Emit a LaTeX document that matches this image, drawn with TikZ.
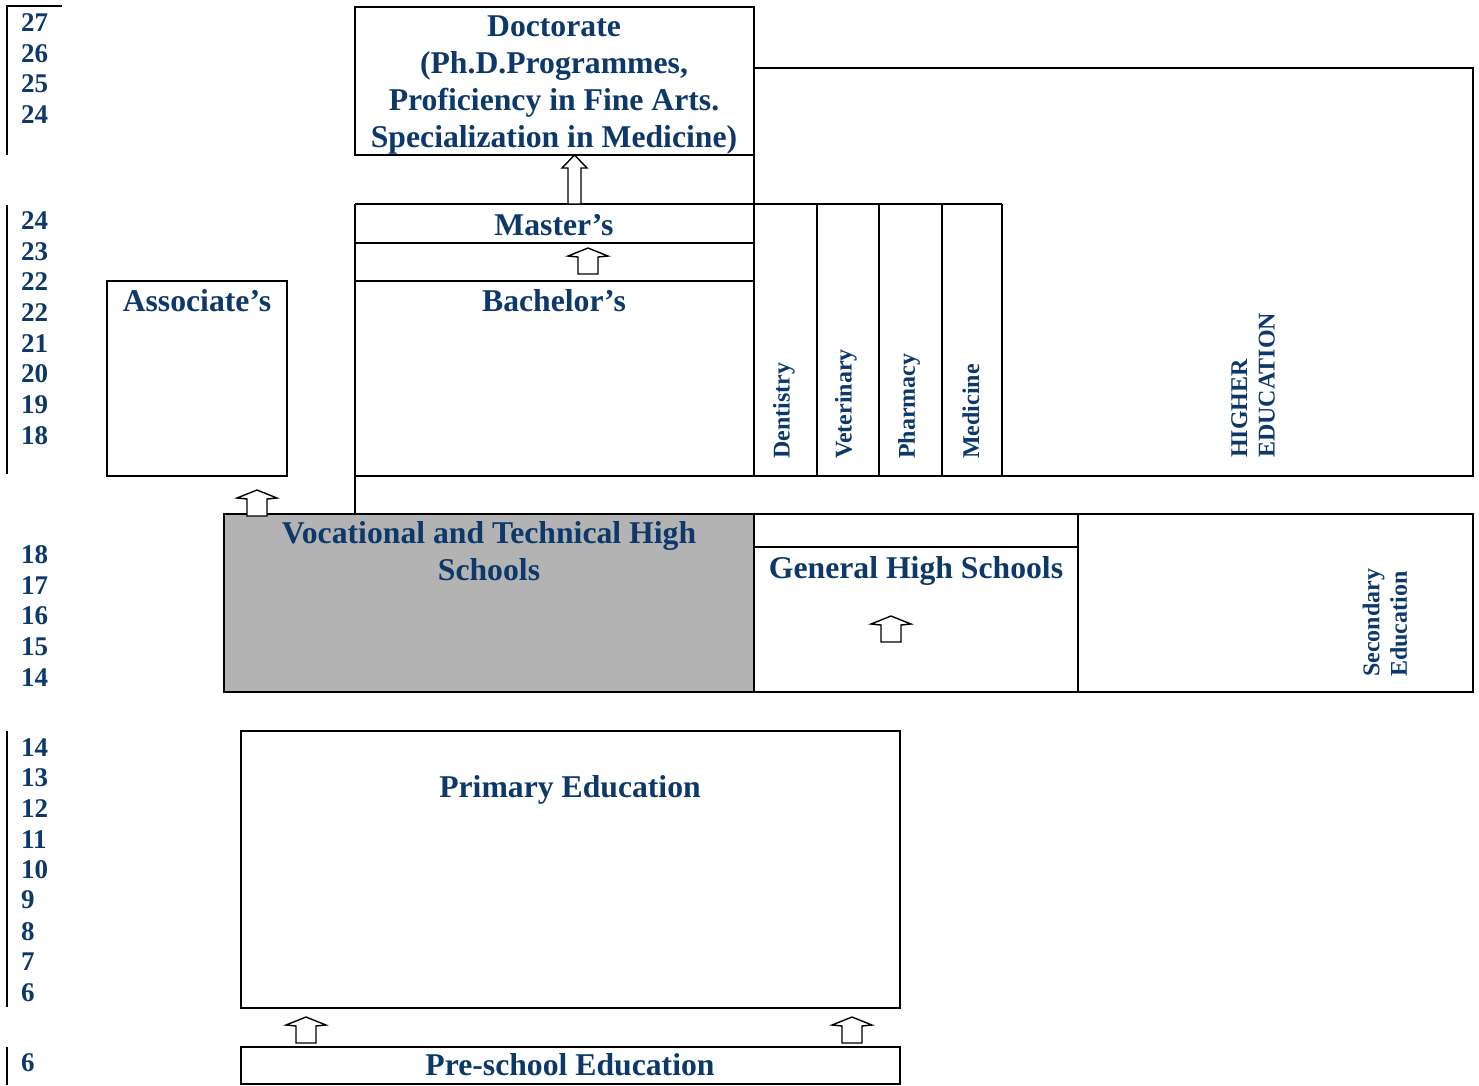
\documentclass[tikz,border=0pt]{standalone}
\usepackage{fontspec}
\setmainfont{Liberation Serif}
\definecolor{tb}{RGB}{12,56,106}
\definecolor{vgray}{RGB}{179,179,179}
\tikzset{
  big/.style={font=\bfseries\fontsize{31.7}{36.7}\selectfont, text=tb, inner sep=0, align=center, anchor=base},
  num/.style={font=\bfseries\fontsize{27}{30}\selectfont, text=tb, inner sep=0, anchor=west},
  vlab/.style={font=\bfseries\fontsize{24}{27.5}\selectfont, text=tb, inner sep=0, rotate=90, anchor=west, align=left},
  frame/.style={draw=black, line width=2pt},
  blockarrow/.pic={\draw[line width=1.4pt, fill=white, line join=miter] (-20,8) -- (0,0) -- (20,8) -- (10,9) -- (10,26) -- (-10,26) -- (-10,9) -- cycle;},
  tallarrow/.pic={\draw[line width=1.4pt, fill=white, line join=miter] (-12.5,13) -- (0,0) -- (12.5,13) -- (6.5,13) -- (6.5,49) -- (-6.5,49) -- (-6.5,13) -- cycle;}
}
\begin{document}
\begin{tikzpicture}[x=1pt,y=-1pt]
\useasboundingbox (0,0) rectangle (1479,1085);
% age scale lines
\draw[frame] (62,6) -- (7,6) -- (7,155);
\draw[frame] (7,205) -- (7,474);
\draw[frame] (7,731) -- (7,1007);
\draw[frame] (7,1047) -- (7,1085);
% age numbers
\foreach \t/\y [count=\i] in {27/23,26/54,25/84,24/115,
  24/221,23/252,22/282,22/313,21/344,20/374,19/405,18/436,
  18/555,17/586,16/616,15/647,14/678,
  14/748,13/778,12/809,11/840,10/870,9/900,8/932,7/962,6/993,
  6/1063}
  \node[num] (age\i) at (21,\y) {\t};
% doctorate
\draw[frame] (355,7) rectangle (754,155);
% higher education outer frame
\draw[frame] (754,68) -- (1473,68) -- (1473,476) -- (355,476);
\draw[frame] (754,155) -- (754,476);
% master / bachelor block
\draw[frame] (355,204) -- (1002,204);
\draw[frame] (355,243) -- (754,243);
\draw[frame] (355,281) -- (754,281);
\draw[frame] (355,204) -- (355,514);
\foreach \x in {817,879,942,1002} \draw[frame] (\x,204) -- (\x,476);
% associate
\draw[frame] (107,281) rectangle (287,476);
% secondary
\draw[frame, fill=vgray] (224,514) rectangle (754,692);
\draw[frame] (754,514) -- (1473,514) -- (1473,692) -- (754,692);
\draw[frame] (754,547) -- (1078,547);
\draw[frame] (1078,514) -- (1078,692);
% primary and pre-school
\draw[frame] (241,731) rectangle (900,1008);
\draw[frame] (241,1047) rectangle (900,1084);
% arrows
\pic at (574.5,155) {tallarrow};
\pic at (588,248) {blockarrow};
\pic at (257,490) {blockarrow};
\pic at (891,616) {blockarrow};
\pic at (306,1017) {blockarrow};
\pic at (852,1017) {blockarrow};
% texts
\node[big] (doc) at (554,147) {Doctorate\\(Ph.D.Programmes,\\Proficiency in Fine Arts.\\Specialization in Medicine)};
\node[big] (master) at (554,235) {Master’s};
\node[big] (bachelor) at (554,311) {Bachelor’s};
\node[big] (assoc) at (197,311) {Associate’s};
\node[big] (voc) at (489,580) {Vocational and Technical High\\Schools};
\node[big] (gen) at (916,578) {General High Schools};
\node[big] (prim) at (570,797) {Primary Education};
\node[big] (pre) at (570,1075) {Pre-school Education};
\node[vlab] (dent) at (784,459) {Dentistry};
\node[vlab] (vet) at (846,459) {Veterinary};
\node[vlab] (pharm) at (909,459) {Pharmacy};
\node[vlab] (med) at (971,459) {Medicine};
\node[vlab] (higher) at (1253,458) {HIGHER\\EDUCATION};
\node[vlab] (second) at (1385,677) {Secondary\\Education};
\end{tikzpicture}
\end{document}
